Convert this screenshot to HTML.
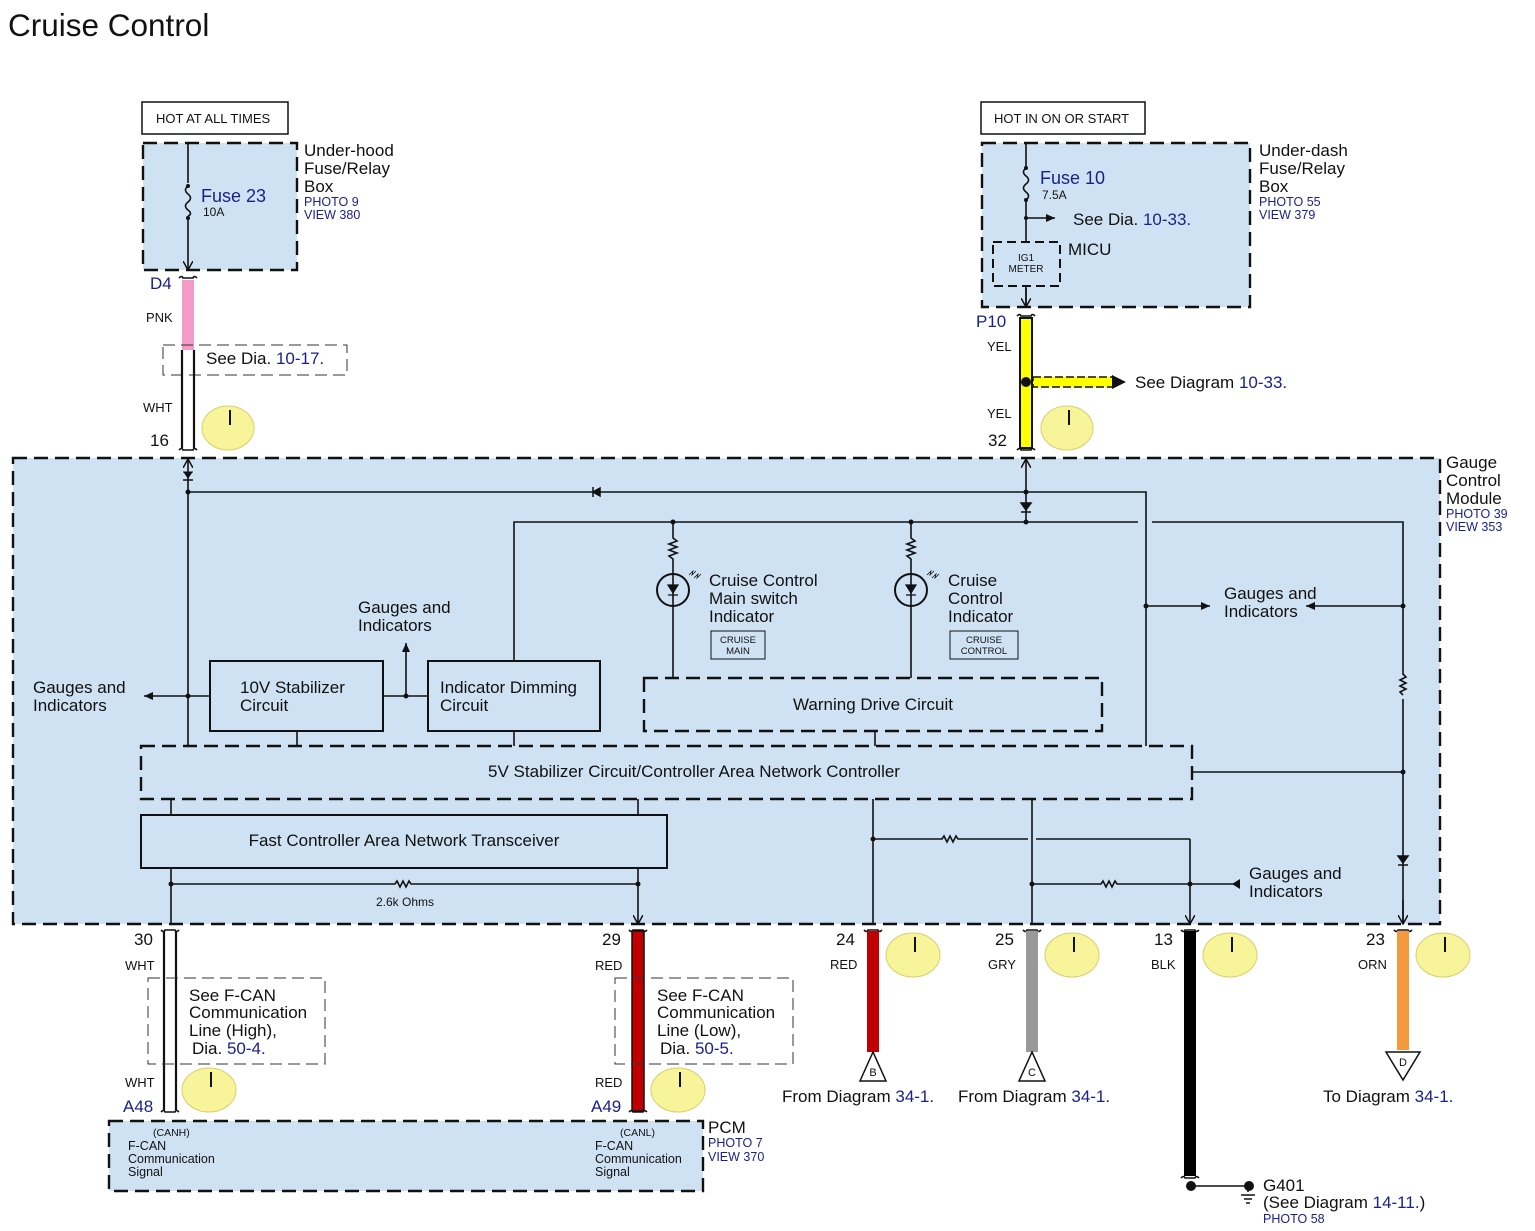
<!DOCTYPE html>
<html><head><meta charset="utf-8"><style>
html,body{margin:0;padding:0;background:#fff;}
svg{display:block;font-family:"Liberation Sans",sans-serif;}
.t{font-size:17px;fill:#111;}
.b{fill:#1a1f8a;}
.s{font-size:12px;fill:#111;}
.bs{font-size:12.5px;fill:#1a1f8a;}
.w{stroke:#111;stroke-width:1.6;fill:none;}
.d{stroke:#111;stroke-width:2.4;fill:none;stroke-dasharray:14,7;}
.d2{stroke:#333;stroke-width:1;fill:none;stroke-dasharray:12,6;}
.clk{fill:#f7f49a;stroke:#d8d070;stroke-width:1;}
</style></head><body>
<svg width="1535" height="1231" viewBox="0 0 1535 1231" xmlns="http://www.w3.org/2000/svg">
<defs>
<marker id="a" markerWidth="10" markerHeight="10" refX="9" refY="5" orient="auto" markerUnits="userSpaceOnUse"><path d="M0,0 L9,5 L0,10" fill="none" stroke="#111" stroke-width="1.5"/></marker>
<marker id="f" markerWidth="10" markerHeight="10" refX="9" refY="5" orient="auto" markerUnits="userSpaceOnUse"><path d="M0,1 L9,5 L0,9Z" fill="#111"/></marker>
</defs>
<text x="8" y="36" style="font-size:31.5px" fill="#111">Cruise Control</text>

<!-- Left top -->
<rect x="142" y="102" width="146" height="32" fill="#fff" stroke="#111" stroke-width="1.5"/>
<text x="156" y="123" class="s" style="font-size:13px">HOT AT ALL TIMES</text>
<rect x="143" y="143" width="154" height="127" fill="#cfe2f3"/>
<rect x="143" y="143" width="154" height="127" class="d"/>
<path d="M188,143 V183 M188,218 V270" class="w" marker-end="url(#a)"/>
<path d="M188,186 q-5,4 0,8 q5,4 0,8 q-5,4 0,8 q5,4 0,6" class="w"/>
<circle cx="188" cy="186" r="2" fill="#111"/><circle cx="188" cy="218" r="2" fill="#111"/>
<text x="201" y="202" class="t b" style="font-size:18px">Fuse 23</text>
<text x="203" y="216" class="s">10A</text>
<text x="304" y="156" class="t">Under-hood</text>
<text x="304" y="174" class="t">Fuse/Relay</text>
<text x="304" y="192" class="t">Box</text>
<text x="304" y="206" class="bs">PHOTO 9</text>
<text x="304" y="219" class="bs">VIEW 380</text>
<path d="M179,278 q3,-3 4,0 h10 q1,-3 4,0" class="w"/>
<text x="150" y="289" class="t b">D4</text>
<rect x="182" y="280" width="12" height="70" fill="#f29ac8"/>
<text x="146" y="322" class="s" style="font-size:13px">PNK</text>
<rect x="163" y="345" width="184" height="30" class="d2"/>
<text x="206" y="364" class="t">See  Dia.  <tspan class="b">10-17.</tspan></text>
<path d="M182,350 V448 M194,350 V448" stroke="#111" stroke-width="2.2"/>
<text x="143" y="412" class="s" style="font-size:13px">WHT</text>
<text x="150" y="446" class="t">16</text>
<path d="M179,450 q3,-3 4,0 h10 q1,-3 4,0" class="w"/>
<ellipse cx="228" cy="428" rx="26" ry="22" class="clk"/><path d="M230,410 v15" stroke="#111" stroke-width="2"/>

<!-- Right top -->
<rect x="981" y="102" width="164" height="32" fill="#fff" stroke="#111" stroke-width="1.5"/>
<text x="994" y="123" class="s" style="font-size:13px">HOT IN ON OR START</text>
<rect x="982" y="143" width="268" height="164" fill="#cfe2f3"/>
<rect x="982" y="143" width="268" height="164" class="d"/>
<path d="M1026,143 V167 M1026,200 V242 M1026,286 V308" class="w"/>
<path d="M1026,288 V307" class="w" marker-end="url(#a)"/>
<path d="M1026,168 q-5,4 0,8 q5,4 0,8 q-5,4 0,8 q5,4 0,8" class="w"/>
<circle cx="1026" cy="168" r="2" fill="#111"/><circle cx="1026" cy="200" r="2" fill="#111"/><circle cx="1026" cy="218" r="2" fill="#111"/>
<path d="M1026,218 H1055" class="w" marker-end="url(#f)"/>
<text x="1040" y="184" class="t b" style="font-size:18px">Fuse 10</text>
<text x="1042" y="199" class="s">7.5A</text>
<text x="1073" y="225" class="t">See Dia.  <tspan class="b">10-33.</tspan></text>
<rect x="993" y="242" width="67" height="44" fill="none" stroke="#111" stroke-width="2" stroke-dasharray="9,5"/>
<text x="1026" y="261" class="s" style="font-size:10px" text-anchor="middle">IG1</text>
<text x="1026" y="272" class="s" style="font-size:10px" text-anchor="middle">METER</text>
<text x="1068" y="255" class="t">MICU</text>
<text x="1259" y="156" class="t">Under-dash</text>
<text x="1259" y="174" class="t">Fuse/Relay</text>
<text x="1259" y="192" class="t">Box</text>
<text x="1259" y="206" class="bs">PHOTO 55</text>
<text x="1259" y="219" class="bs">VIEW 379</text>
<text x="976" y="327" class="t b">P10</text>
<path d="M1017,316 q3,-3 4,0 h10 q1,-3 4,0" class="w"/>
<rect x="1020" y="318" width="12" height="130" fill="#ffff00" stroke="#111" stroke-width="2"/>
<text x="987" y="351" class="s" style="font-size:13px">YEL</text>
<text x="987" y="418" class="s" style="font-size:13px">YEL</text>
<rect x="1033" y="377" width="80" height="10" fill="#ffff00" stroke="#111" stroke-width="1.5" stroke-dasharray="8,3"/>
<path d="M1112,375 L1126,382 L1112,389Z" fill="#111"/>
<circle cx="1026" cy="382" r="5" fill="#111"/>
<text x="1135" y="388" class="t">See Diagram <tspan class="b">10-33.</tspan></text>
<text x="988" y="446" class="t">32</text>
<path d="M1017,450 q3,-3 4,0 h10 q1,-3 4,0" class="w"/>
<ellipse cx="1067" cy="428" rx="26" ry="22" class="clk"/><path d="M1069,410 v15" stroke="#111" stroke-width="2"/>

<!-- Gauge module -->
<rect x="13" y="458" width="1427" height="466" fill="#cfe2f3"/>
<rect x="13" y="458" width="1427" height="466" class="d"/>
<text x="1446" y="468" class="t">Gauge</text>
<text x="1446" y="486" class="t">Control</text>
<text x="1446" y="504" class="t">Module</text>
<text x="1446" y="518" class="bs">PHOTO 39</text>
<text x="1446" y="531" class="bs">VIEW 353</text>

<path d="M188,470 V459" class="w" marker-end="url(#a)"/>
<path d="M188,470 V746 M188,492 H1146 V746" class="w"/>
<path d="M183,472 h10 M184,472 l4,6 l4,-6z" stroke="#111" fill="#111"/>
<path d="M183,480 h10" stroke="#111" stroke-width="1.5"/>
<path d="M593,487 v10 M593,492 l7,-4 v8z" stroke="#111" fill="#111" stroke-width="1.5"/>
<path d="M1026,470 V459" class="w" marker-end="url(#a)"/>
<path d="M1026,470 V522" class="w"/>
<path d="M1021,503 l5,7 l5,-7z M1021,512 h10" stroke="#111" fill="#111" stroke-width="1.5"/>
<path d="M514,661 V522 H1138 M1152,522 H1403 V924" class="w"/>
<circle cx="188" cy="492" r="2.5" fill="#111"/><circle cx="1026" cy="492" r="2.5" fill="#111"/><circle cx="1026" cy="522" r="2.5" fill="#111"/>
<circle cx="673" cy="522" r="2.5" fill="#111"/><circle cx="911" cy="522" r="2.5" fill="#111"/>
<g>
<path d="M673,522 V538 l4,3 l-8,3 l8,3 l-8,3 l8,3 l-8,3 l4,3 V678" class="w"/>
<ellipse cx="673" cy="590" rx="16" ry="16" fill="none" stroke="#111" stroke-width="2"/>
<path d="M668,585 l5,8 l5,-8z M668,595 h10" stroke="#111" fill="#111" stroke-width="1.2"/>
<path d="M689,575 l4,-4 l-1,4 l4,-4 M694,578 l4,-4 l-1,4 l4,-4" stroke="#111" stroke-width="0.8" fill="none"/>
<path d="M911,522 V538 l4,3 l-8,3 l8,3 l-8,3 l8,3 l-8,3 l4,3 V678" class="w"/>
<ellipse cx="911" cy="590" rx="16" ry="16" fill="none" stroke="#111" stroke-width="2"/>
<path d="M906,585 l5,8 l5,-8z M906,595 h10" stroke="#111" fill="#111" stroke-width="1.2"/>
<path d="M927,575 l4,-4 l-1,4 l4,-4 M932,578 l4,-4 l-1,4 l4,-4" stroke="#111" stroke-width="0.8" fill="none"/>
</g>
<text x="709" y="586" class="t">Cruise Control</text>
<text x="709" y="604" class="t">Main switch</text>
<text x="709" y="622" class="t">Indicator</text>
<rect x="711" y="631" width="54" height="28" fill="none" stroke="#111" stroke-width="1"/>
<text x="738" y="643" class="s" style="font-size:9.5px" text-anchor="middle">CRUISE</text>
<text x="738" y="654" class="s" style="font-size:9.5px" text-anchor="middle">MAIN</text>
<text x="948" y="586" class="t">Cruise</text>
<text x="948" y="604" class="t">Control</text>
<text x="948" y="622" class="t">Indicator</text>
<rect x="950" y="631" width="68" height="28" fill="none" stroke="#111" stroke-width="1"/>
<text x="984" y="643" class="s" style="font-size:9.5px" text-anchor="middle">CRUISE</text>
<text x="984" y="654" class="s" style="font-size:9.5px" text-anchor="middle">CONTROL</text>

<path d="M1146,606 H1210" class="w" marker-end="url(#f)"/>
<path d="M1403,606 H1306" class="w" marker-end="url(#f)"/>
<circle cx="1146" cy="606" r="2.5" fill="#111"/><circle cx="1403" cy="606" r="2.5" fill="#111"/>
<text x="1224" y="599" class="t">Gauges and</text>
<text x="1224" y="617" class="t">Indicators</text>
<rect x="1398" y="675" width="10" height="24" fill="#cfe2f3"/>
<path d="M1403,674 l3,3 l-6,3 l6,3 l-6,3 l6,3 l-6,3 l3,3" class="w" stroke-width="1.2"/>
<path d="M1192,772 H1403" class="w"/><circle cx="1403" cy="772" r="2.5" fill="#111"/>
<path d="M1398,856 l5,7 l5,-7z M1398,865 h10" stroke="#111" fill="#111" stroke-width="1.5"/>
<path d="M1403,900 V924" class="w" marker-end="url(#a)"/>

<rect x="644" y="678" width="458" height="53" class="d" stroke-width="2"/>
<text x="873" y="710" class="t" text-anchor="middle">Warning Drive Circuit</text>
<path d="M875,731 V746" class="w"/>
<rect x="210" y="661" width="173" height="70" fill="none" stroke="#111" stroke-width="2"/>
<text x="240" y="693" class="t">10V Stabilizer</text>
<text x="240" y="711" class="t">Circuit</text>
<rect x="428" y="661" width="172" height="70" fill="none" stroke="#111" stroke-width="2"/>
<text x="440" y="693" class="t">Indicator Dimming</text>
<text x="440" y="711" class="t">Circuit</text>
<path d="M210,696 H144" class="w" marker-end="url(#f)"/>
<circle cx="188" cy="696" r="2.5" fill="#111"/>
<text x="33" y="693" class="t">Gauges and</text>
<text x="33" y="711" class="t">Indicators</text>
<path d="M383,696 H428" class="w"/>
<path d="M406,696 V643" class="w" marker-end="url(#f)"/>
<circle cx="406" cy="696" r="2.5" fill="#111"/>
<text x="358" y="613" class="t">Gauges and</text>
<text x="358" y="631" class="t">Indicators</text>
<path d="M297,731 V746 M514,731 V746" class="w"/>

<rect x="141" y="746" width="1051" height="53" class="d" stroke-width="2"/>
<text x="694" y="777" class="t" text-anchor="middle">5V Stabilizer Circuit/Controller Area Network Controller</text>
<path d="M171,799 V815 M638,799 V815" class="w"/>
<rect x="141" y="815" width="526" height="53" fill="none" stroke="#111" stroke-width="2"/>
<text x="404" y="846" class="t" text-anchor="middle">Fast Controller Area Network Transceiver</text>
<path d="M171,868 V924 M638,868 V924" class="w" marker-end="url(#a)"/>
<path d="M171,884 H395 l2,-3 l3,6 l3,-6 l3,6 l3,-6 l2,3 H638" class="w"/>
<circle cx="171" cy="884" r="2.5" fill="#111"/><circle cx="638" cy="884" r="2.5" fill="#111"/>
<text x="405" y="906" class="s" text-anchor="middle">2.6k Ohms</text>

<path d="M873,799 V924 M1032,799 V924 M1190,839 V924" class="w" marker-end="url(#a)"/>
<path d="M873,839 H942 l2,-3 l3,6 l3,-6 l3,6 l3,-6 l2,3 H1028 M1036,839 H1190" class="w"/>
<path d="M1032,884 H1101 l2,-3 l3,6 l3,-6 l3,6 l3,-6 l2,3 H1240" class="w"/>
<path d="M1240,879 l-8,5 l8,5z" fill="#111"/>
<circle cx="873" cy="839" r="2.5" fill="#111"/><circle cx="1032" cy="884" r="2.5" fill="#111"/><circle cx="1190" cy="884" r="2.5" fill="#111"/>
<text x="1249" y="879" class="t">Gauges and</text>
<text x="1249" y="897" class="t">Indicators</text>

<g>
<path d="M161,930 q3,3 4,0 h10 q1,3 4,0" class="w"/>
<path d="M164,931 V1110 M176,931 V1110" stroke="#111" stroke-width="2.2"/>
<path d="M161,1112 q3,-3 4,0 h10 q1,-3 4,0" class="w"/>
<text x="134" y="945" class="t">30</text>
<text x="125" y="970" class="s" style="font-size:13px">WHT</text>
<text x="125" y="1087" class="s" style="font-size:13px">WHT</text>
<text x="123" y="1112" class="t b">A48</text>
<rect x="148" y="978" width="177" height="86" class="d2"/>
<text x="189" y="1001" class="t">See F-CAN</text>
<text x="189" y="1018" class="t">Communication</text>
<text x="189" y="1036" class="t">Line (High),</text>
<text x="192" y="1054" class="t">Dia.  <tspan class="b">50-4.</tspan></text>
<ellipse cx="209" cy="1090" rx="27" ry="22" class="clk"/><path d="M211,1072 v15" stroke="#111" stroke-width="2"/>

<path d="M629,930 q3,3 4,0 h10 q1,3 4,0" class="w"/>
<rect x="632" y="931" width="12" height="180" fill="#c00000" stroke="#111" stroke-width="1.5"/>
<path d="M629,1112 q3,-3 4,0 h10 q1,-3 4,0" class="w"/>
<text x="602" y="945" class="t">29</text>
<text x="595" y="970" class="s" style="font-size:13px">RED</text>
<text x="595" y="1087" class="s" style="font-size:13px">RED</text>
<text x="591" y="1112" class="t b">A49</text>
<rect x="615" y="978" width="178" height="86" class="d2"/>
<text x="657" y="1001" class="t">See F-CAN</text>
<text x="657" y="1018" class="t">Communication</text>
<text x="657" y="1036" class="t">Line (Low),</text>
<text x="660" y="1054" class="t">Dia.  <tspan class="b">50-5.</tspan></text>
<ellipse cx="678" cy="1090" rx="27" ry="22" class="clk"/><path d="M680,1072 v15" stroke="#111" stroke-width="2"/>

<rect x="109" y="1121" width="594" height="70" fill="#cfe2f3"/>
<rect x="109" y="1121" width="594" height="70" class="d" stroke-width="2"/>
<text x="153" y="1136" class="s" style="font-size:10.5px">(CANH)</text>
<text x="128" y="1150" class="s" style="font-size:12.5px">F-CAN</text>
<text x="128" y="1163" class="s" style="font-size:12.5px">Communication</text>
<text x="128" y="1176" class="s" style="font-size:12.5px">Signal</text>
<text x="620" y="1136" class="s" style="font-size:10.5px">(CANL)</text>
<text x="595" y="1150" class="s" style="font-size:12.5px">F-CAN</text>
<text x="595" y="1163" class="s" style="font-size:12.5px">Communication</text>
<text x="595" y="1176" class="s" style="font-size:12.5px">Signal</text>
<text x="708" y="1133" class="t">PCM</text>
<text x="708" y="1147" class="bs">PHOTO 7</text>
<text x="708" y="1161" class="bs">VIEW 370</text>
</g>

<g>
<path d="M864,930 q3,3 4,0 h10 q1,3 4,0" class="w"/>
<rect x="867" y="931" width="12" height="121" fill="#c00000"/>
<text x="836" y="945" class="t">24</text>
<text x="830" y="969" class="s" style="font-size:13px">RED</text>
<path d="M873,1052 L860,1081 H886Z" fill="#fff" stroke="#111" stroke-width="1.5"/>
<text x="873" y="1076" class="s" style="font-size:11px" text-anchor="middle">B</text>
<text x="782" y="1102" class="t">From Diagram  <tspan class="b">34-1.</tspan></text>
<ellipse cx="913" cy="955" rx="27" ry="22" class="clk"/><path d="M915,937 v15" stroke="#111" stroke-width="2"/>

<path d="M1023,930 q3,3 4,0 h10 q1,3 4,0" class="w"/>
<rect x="1026" y="931" width="12" height="121" fill="#999"/>
<text x="995" y="945" class="t">25</text>
<text x="988" y="969" class="s" style="font-size:13px">GRY</text>
<path d="M1032,1052 L1019,1081 H1045Z" fill="#fff" stroke="#111" stroke-width="1.5"/>
<text x="1032" y="1076" class="s" style="font-size:11px" text-anchor="middle">C</text>
<text x="958" y="1102" class="t">From Diagram  <tspan class="b">34-1.</tspan></text>
<ellipse cx="1072" cy="955" rx="27" ry="22" class="clk"/><path d="M1074,937 v15" stroke="#111" stroke-width="2"/>

<path d="M1181,930 q3,3 4,0 h10 q1,3 4,0" class="w"/>
<rect x="1184" y="931" width="12" height="245" fill="#000"/>
<path d="M1181,1178 q3,-3 4,0 h10 q1,-3 4,0" class="w"/>
<text x="1154" y="945" class="t">13</text>
<text x="1151" y="969" class="s" style="font-size:13px">BLK</text>
<ellipse cx="1230" cy="955" rx="27" ry="22" class="clk"/><path d="M1232,937 v15" stroke="#111" stroke-width="2"/>
<circle cx="1191" cy="1186" r="5" fill="#111"/>
<path d="M1191,1186 H1248 M1248,1192 v-2 M1241,1195 h14 M1244,1199 h8 M1246,1203 h4" class="w"/>
<circle cx="1249" cy="1186" r="5" fill="#111"/>
<text x="1263" y="1191" class="t">G401</text>
<text x="1263" y="1208" class="t">(See Diagram <tspan class="b">14-11.</tspan>)</text>
<text x="1263" y="1223" class="bs">PHOTO 58</text>

<path d="M1394,930 q3,3 4,0 h10 q1,3 4,0" class="w"/>
<rect x="1397" y="931" width="12" height="119" fill="#f4993c"/>
<text x="1366" y="945" class="t">23</text>
<text x="1358" y="969" class="s" style="font-size:13px">ORN</text>
<path d="M1386,1052 H1420 L1403,1080Z" fill="#fff" stroke="#111" stroke-width="1.5"/>
<text x="1403" y="1066" class="s" style="font-size:11px" text-anchor="middle">D</text>
<text x="1323" y="1102" class="t">To Diagram  <tspan class="b">34-1.</tspan></text>
<ellipse cx="1443" cy="955" rx="27" ry="22" class="clk"/><path d="M1445,937 v15" stroke="#111" stroke-width="2"/>
</g>
</svg>
</body></html>
